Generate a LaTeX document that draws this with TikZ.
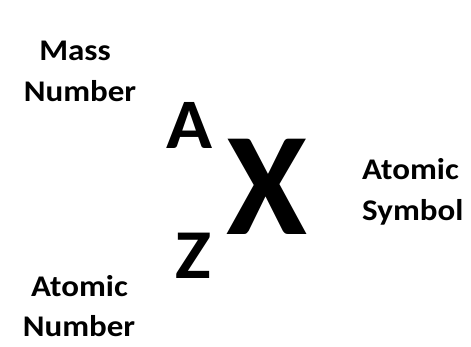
\documentclass[tikz,border=0pt]{standalone}
\usepackage{fontspec}
\setmainfont{Carlito}
\begin{document}
\begin{tikzpicture}[x=1pt,y=1pt,
  lbl/.style={inner sep=0pt,anchor=base,transform shape,xscale=1.1,font=\bfseries\fontsize{30}{41}\selectfont},
  sym/.style={inner sep=0pt,anchor=base,transform shape,xscale=1.07,font=\bfseries\fontsize{#1}{#1}\selectfont}]
\useasboundingbox[fill=white] (0,0) rectangle (471,346);
\node[lbl] (mass1) at (75,285) {Mass};
\node[lbl] (mass2) at (80,244) {Number};
\node[sym=71] (A) at (189.5,198) {A};
\node[sym=147,xscale=0.935] (X) at (267,112) {X};
\node[sym=70] (Z) at (193,68) {Z};
\node[lbl,anchor=base west] (sym1) at (362,167) {Atomic};
\node[lbl,anchor=base west] (sym2) at (362,126) {Symbol};
\node[lbl] (num1) at (79.5,50) {Atomic};
\node[lbl] (num2) at (79,10) {Number};
\end{tikzpicture}
\end{document}
